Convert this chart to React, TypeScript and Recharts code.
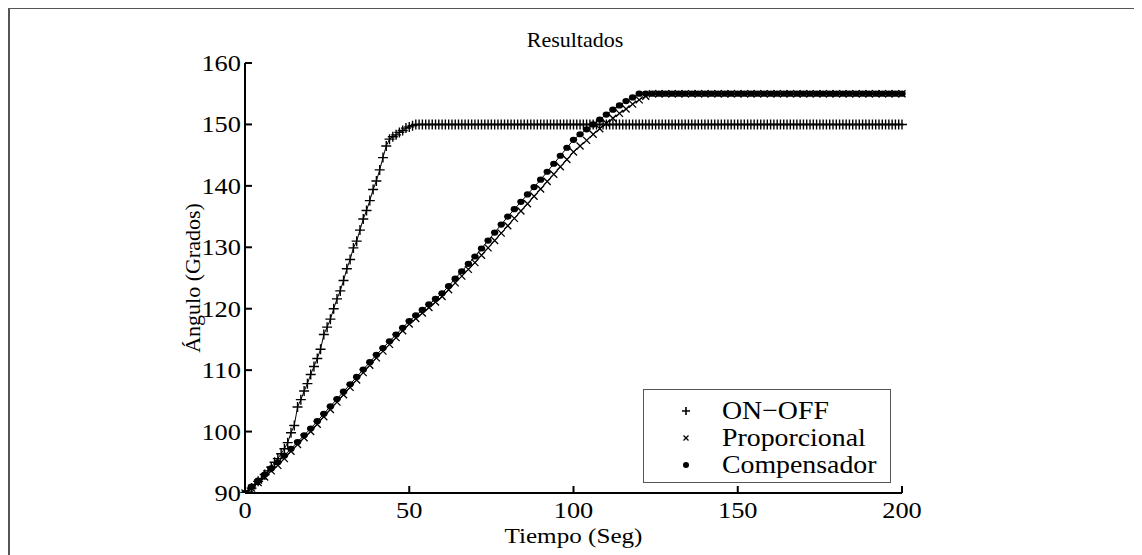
import React from "react";
import { LineChart, Line, XAxis, YAxis, Legend } from "recharts";

// ON-OFF: muestreo cada 1 s (0..200)
const timeOnOff = [
  0, 1, 2, 3, 4, 5, 6, 7, 8, 9, 10, 11, 12, 13, 14, 15, 16, 17, 18, 19,
  20, 21, 22, 23, 24, 25, 26, 27, 28, 29, 30, 31, 32, 33, 34, 35, 36, 37, 38, 39,
  40, 41, 42, 43, 44, 45, 46, 47, 48, 49, 50, 51, 52, 53, 54, 55, 56, 57, 58, 59,
  60, 61, 62, 63, 64, 65, 66, 67, 68, 69, 70, 71, 72, 73, 74, 75, 76, 77, 78, 79,
  80, 81, 82, 83, 84, 85, 86, 87, 88, 89, 90, 91, 92, 93, 94, 95, 96, 97, 98, 99,
  100, 101, 102, 103, 104, 105, 106, 107, 108, 109, 110, 111, 112, 113, 114, 115, 116, 117, 118, 119,
  120, 121, 122, 123, 124, 125, 126, 127, 128, 129, 130, 131, 132, 133, 134, 135, 136, 137, 138, 139,
  140, 141, 142, 143, 144, 145, 146, 147, 148, 149, 150, 151, 152, 153, 154, 155, 156, 157, 158, 159,
  160, 161, 162, 163, 164, 165, 166, 167, 168, 169, 170, 171, 172, 173, 174, 175, 176, 177, 178, 179,
  180, 181, 182, 183, 184, 185, 186, 187, 188, 189, 190, 191, 192, 193, 194, 195, 196, 197, 198, 199,
  200,
];

const onOff = [
  90, 90.3, 90.8, 91.4, 91.9, 92.3, 93, 93.6, 94.2, 95, 95.6, 96.4, 97.2, 98.2, 99.8, 101, 104, 105.2, 106.6, 107.8,
  109.3, 110.6, 111.9, 113.4, 115.8, 117, 118.3, 120, 121.6, 122.9, 124.6, 126.5, 128, 129.9, 131, 132.8, 134.6, 136, 137.6, 139.4,
  140.8, 142.6, 144.6, 146.5, 147.6, 148, 148.3, 148.7, 149, 149.4, 149.6, 149.8, 150, 150, 150, 150, 150, 150, 150, 150,
  150, 150, 150, 150, 150, 150, 150, 150, 150, 150, 150, 150, 150, 150, 150, 150, 150, 150, 150, 150,
  150, 150, 150, 150, 150, 150, 150, 150, 150, 150, 150, 150, 150, 150, 150, 150, 150, 150, 150, 150,
  150, 150, 150, 150, 150, 150, 150, 150, 150, 150, 150, 150, 150, 150, 150, 150, 150, 150, 150, 150,
  150, 150, 150, 150, 150, 150, 150, 150, 150, 150, 150, 150, 150, 150, 150, 150, 150, 150, 150, 150,
  150, 150, 150, 150, 150, 150, 150, 150, 150, 150, 150, 150, 150, 150, 150, 150, 150, 150, 150, 150,
  150, 150, 150, 150, 150, 150, 150, 150, 150, 150, 150, 150, 150, 150, 150, 150, 150, 150, 150, 150,
  150, 150, 150, 150, 150, 150, 150, 150, 150, 150, 150, 150, 150, 150, 150, 150, 150, 150, 150, 150,
  150,
];

// Proporcional y Compensador: muestreo cada 2 s (0..200)
const timeCtrl = [
  0, 2, 4, 6, 8, 10, 12, 14, 16, 18, 20, 22, 24, 26, 28, 30, 32, 34, 36, 38,
  40, 42, 44, 46, 48, 50, 52, 54, 56, 58, 60, 62, 64, 66, 68, 70, 72, 74, 76, 78,
  80, 82, 84, 86, 88, 90, 92, 94, 96, 98, 100, 102, 104, 106, 108, 110, 112, 114, 116, 118,
  120, 122, 124, 126, 128, 130, 132, 134, 136, 138, 140, 142, 144, 146, 148, 150, 152, 154, 156, 158,
  160, 162, 164, 166, 168, 170, 172, 174, 176, 178, 180, 182, 184, 186, 188, 190, 192, 194, 196, 198,
  200,
];

const proporcional = [
  90, 90.8, 91.7, 92.6, 93.6, 94.5, 95.6, 96.8, 97.9, 99, 100, 101.2, 102.4, 103.6, 104.8, 106, 107.2, 108.4, 109.6, 110.8,
  112, 113.1, 114.2, 115.3, 116.4, 117.5, 118.4, 119.3, 120.2, 121.1, 122, 123.1, 124.2, 125.3, 126.4, 127.5, 128.7, 129.9, 131.1, 132.3,
  133.5, 134.7, 135.9, 137.1, 138.3, 139.5, 140.7, 141.9, 143.1, 144.3, 145.5, 146.5, 147.4, 148.4, 149.3, 150.2, 151, 151.8, 152.5, 153.3,
  154, 154.6, 155, 155, 155, 155, 155, 155, 155, 155, 155, 155, 155, 155, 155, 155, 155, 155, 155, 155,
  155, 155, 155, 155, 155, 155, 155, 155, 155, 155, 155, 155, 155, 155, 155, 155, 155, 155, 155, 155,
  155,
];

const compensador = [
  90, 91, 92, 93, 94, 95, 96.1, 97.2, 98.3, 99.4, 100.5, 101.7, 102.9, 104.1, 105.3, 106.5, 107.7, 108.9, 110.1, 111.3,
  112.5, 113.6, 114.7, 115.8, 116.9, 118, 118.9, 119.8, 120.7, 121.6, 122.5, 123.7, 124.9, 126.1, 127.3, 128.5, 129.8, 131.1, 132.4, 133.7,
  135, 136.2, 137.4, 138.6, 139.8, 141, 142.3, 143.6, 144.9, 146.2, 147.5, 148.4, 149.2, 150, 150.8, 151.6, 152.4, 153.1, 153.8, 154.4,
  155, 155, 155, 155, 155, 155, 155, 155, 155, 155, 155, 155, 155, 155, 155, 155, 155, 155, 155, 155,
  155, 155, 155, 155, 155, 155, 155, 155, 155, 155, 155, 155, 155, 155, 155, 155, 155, 155, 155, 155,
  155,
];

const xTicks = [0, 50, 100, 150, 200];
const yTicks = [90, 100, 110, 120, 130, 140, 150, 160];

const onOffData = timeOnOff.map((t, i) => ({ t, v: onOff[i] }));
const propData = timeCtrl.map((t, i) => ({ t, v: proporcional[i] }));
const compData = timeCtrl.map((t, i) => ({ t, v: compensador[i] }));

const FONT = "'Liberation Serif', 'Times New Roman', serif";

const PlusDot = (p: any) => {
  const { cx, cy, index } = p;
  if (cx == null || cy == null) return <g key={`a${index}`} />;
  const s = 5;
  return (
    <path
      key={`a${index}`}
      d={`M${cx - s},${cy}H${cx + s}M${cx},${cy - s}V${cy + s}`}
      stroke="#000"
      strokeWidth={1.4}
    />
  );
};

const CrossDot = (p: any) => {
  const { cx, cy, index } = p;
  if (cx == null || cy == null) return <g key={`b${index}`} />;
  const s = 3.5;
  return (
    <path
      key={`b${index}`}
      d={`M${cx - s},${cy - s}L${cx + s},${cy + s}M${cx - s},${cy + s}L${cx + s},${cy - s}`}
      stroke="#000"
      strokeWidth={1.3}
    />
  );
};

const BallDot = (p: any) => {
  const { cx, cy, index } = p;
  if (cx == null || cy == null) return <g key={`c${index}`} />;
  return <ellipse key={`c${index}`} cx={cx} cy={cy} rx={3.7} ry={3.1} fill="#000" />;
};

// the source figure is slightly stretched horizontally, hence textLength
const YTick = (p: any) => {
  const { x, y, payload } = p;
  const s = String(payload.value);
  return (
    <g>
      <line x1={x} x2={x + 7} y1={y} y2={y} stroke="#000" strokeWidth={2} />
      <text
        x={x - 4}
        y={y + 8}
        textAnchor="end"
        fontFamily={FONT}
        fontSize={23}
        textLength={s.length * 13.2}
        lengthAdjust="spacingAndGlyphs"
        fill="#000"
      >
        {s}
      </text>
    </g>
  );
};

const XTick = (p: any) => {
  const { x, y, payload } = p;
  const s = String(payload.value);
  return (
    <g>
      <line x1={x} x2={x} y1={y} y2={y - 7} stroke="#000" strokeWidth={2} />
      <text
        x={x}
        y={y + 25}
        textAnchor="middle"
        fontFamily={FONT}
        fontSize={23}
        textLength={s.length * 13.2}
        lengthAdjust="spacingAndGlyphs"
        fill="#000"
      >
        {s}
      </text>
    </g>
  );
};

const XTitle = (p: any) => {
  const vb = p.viewBox;
  return (
    <text
      x={vb.x + vb.width / 2}
      y={535}
      textAnchor="middle"
      fontFamily={FONT}
      fontSize={22}
      textLength={138}
      lengthAdjust="spacingAndGlyphs"
      fill="#000"
    >
      Tiempo (Seg)
    </text>
  );
};

const YTitle = (p: any) => {
  const vb = p.viewBox;
  const cx = 184;
  const cy = vb.y + vb.height / 2;
  return (
    <text
      x={cx}
      y={cy}
      transform={`rotate(-90 ${cx} ${cy})`}
      textAnchor="middle"
      dominantBaseline="central"
      fontFamily={FONT}
      fontSize={22}
      fill="#000"
    >
      Ángulo (Grados)
    </text>
  );
};

const legendRows = [
  { name: "ON\u2212OFF", mark: "plus" },
  { name: "Proporcional", mark: "cross" },
  { name: "Compensador", mark: "ball" },
];

const LegendMark = ({ mark }: { mark: string }) => (
  <svg width={14} height={14} style={{ display: "block" }}>
    {mark === "plus" && <path d="M3,7H11M7,3V11" stroke="#000" strokeWidth={1.6} />}
    {mark === "cross" && <path d="M4.5,4.5L9.5,9.5M4.5,9.5L9.5,4.5" stroke="#000" strokeWidth={1.3} />}
    {mark === "ball" && <circle cx={7} cy={7} r={3} fill="#000" />}
  </svg>
);

const LegendBox = () => (
  <div
    style={{
      boxSizing: "border-box",
      width: 248,
      height: 94,
      border: "1.5px solid #555",
      background: "#fff",
      paddingTop: 7,
      fontFamily: FONT,
      fontSize: 26,
      color: "#000",
    }}
  >
    {legendRows.map((r) => (
      <div key={r.name} style={{ display: "flex", alignItems: "center", height: 27 }}>
        <div style={{ width: 43, display: "flex", justifyContent: "center", marginLeft: 20 }}>
          <LegendMark mark={r.mark} />
        </div>
        <span
          style={{
            marginLeft: 15,
            lineHeight: "27px",
            display: "inline-block",
            transform: "scaleX(1.07)",
            transformOrigin: "left center",
            whiteSpace: "nowrap",
          }}
        >
          {r.name}
        </span>
      </div>
    ))}
  </div>
);

export default function App() {
  return (
    <div style={{ position: "relative", width: 1134, height: 547 }}>
      <LineChart
        width={1134}
        height={547}
        margin={{ top: 55, right: 240, left: 177, bottom: 22 }}
      >
        <XAxis
          dataKey="t"
          type="number"
          domain={[0, 200]}
          ticks={xTicks}
          interval={0}
          tickSize={0}
          tickMargin={0}
          tickLine={false}
          tick={XTick}
          height={40}
          allowDuplicatedCategory={false}
          axisLine={{ stroke: "#000", strokeWidth: 2 }}
          label={{ content: XTitle }}
        />
        <YAxis
          type="number"
          domain={[90, 160]}
          ticks={yTicks}
          interval={0}
          tickSize={0}
          tickMargin={0}
          tickLine={false}
          tick={YTick}
          width={60}
          allowDataOverflow
          axisLine={{ stroke: "#000", strokeWidth: 2 }}
          label={{ content: YTitle }}
        />
        <Legend
          layout="vertical"
          align="center"
          verticalAlign="middle"
          content={() => <LegendBox />}
          wrapperStyle={{ left: 635, top: 381, width: 248, height: 94 }}
        />
        <Line
          data={onOffData}
          type="linear"
          dataKey="v"
          name="ON-OFF"
          stroke="#000"
          strokeWidth={1}
          dot={PlusDot}
          activeDot={false}
          isAnimationActive={false}
        />
        <Line
          data={propData}
          type="linear"
          dataKey="v"
          name="Proporcional"
          stroke="#000"
          strokeWidth={1}
          dot={CrossDot}
          activeDot={false}
          isAnimationActive={false}
        />
        <Line
          data={compData}
          type="linear"
          dataKey="v"
          name="Compensador"
          stroke="#000"
          strokeWidth={1}
          dot={BallDot}
          activeDot={false}
          isAnimationActive={false}
        />
      </LineChart>
      <div
        style={{
          position: "absolute",
          left: 467,
          top: 20,
          width: 200,
          textAlign: "center",
          fontFamily: FONT,
          fontSize: 22,
          lineHeight: "24px",
          color: "#000",
        }}
      >
        Resultados
      </div>
      <div
        style={{
          position: "absolute",
          left: 0,
          top: -1,
          width: 1134,
          height: 2,
          background: "#555",
          zIndex: 5,
          pointerEvents: "none",
        }}
      />
      <div
        style={{
          position: "absolute",
          left: 0,
          top: -1,
          width: 2,
          height: 560,
          background: "#555",
          zIndex: 5,
          pointerEvents: "none",
        }}
      />
    </div>
  );
}
